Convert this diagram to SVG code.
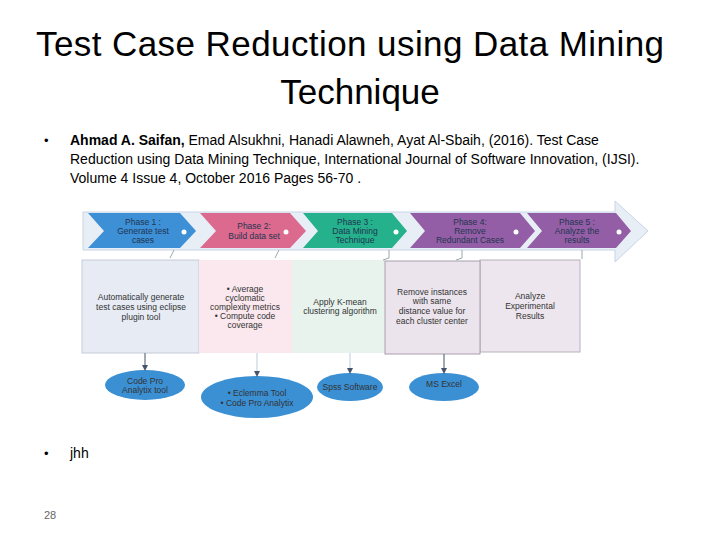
<svg xmlns="http://www.w3.org/2000/svg" width="720" height="540" viewBox="0 0 720 540">
<style>
.t{font-family:"Liberation Sans",Arial,sans-serif;}
.ph{font-family:"Liberation Sans",Arial,sans-serif;font-size:8.5px;fill:#1f3550;text-anchor:middle;}
.bx{font-family:"Liberation Sans",Arial,sans-serif;font-size:8.5px;fill:#333;text-anchor:middle;}
.el{fill:#3b8fd3;}
.dot{fill:#fff;}
</style>
<defs><marker id="ar" markerWidth="6" markerHeight="6" refX="3" refY="3" orient="auto"><path d="M0,0L6,3L0,6z" fill="#44546a"/></marker></defs>
<rect width="720" height="540" fill="#fff"/>
<text class="t" x="350" y="56" font-size="35" text-anchor="middle" fill="#000" textLength="628">Test Case Reduction using Data Mining</text>
<text class="t" x="360" y="104" font-size="35" text-anchor="middle" fill="#000">Technique</text>
<text class="t" x="44" y="145" font-size="13">•</text>
<text class="t" font-size="14" fill="#000"><tspan x="70" y="145"><tspan font-weight="bold">Ahmad A. Saifan,</tspan> Emad Alsukhni, Hanadi Alawneh, Ayat Al-Sbaih, (2016). Test Case</tspan><tspan x="70" y="164">Reduction using Data Mining Technique, International Journal of Software Innovation, (IJSI).</tspan><tspan x="70" y="183">Volume 4 Issue 4, October 2016  Pages 56-70 .</tspan></text>
<text class="t" x="44" y="458" font-size="13">•</text>
<text class="t" x="70" y="458" font-size="14">jhh</text>
<text class="t" x="44" y="519" font-size="11" fill="#666">28</text>
<g id="bigarrow"><path d="M83,212H615V201L648,231L615,262V250H83z" fill="#e8eef6" stroke="#c8d4e6"/></g>
<g id="phase1"><path d="M88,213H180L196,231L180,248H88L104,231z" fill="#3d8fd6"/><text class="ph"><tspan x="143" y="225">Phase 1 :</tspan><tspan x="143" y="234">Generate test</tspan><tspan x="143" y="243">cases</tspan></text><circle class="dot" cx="184" cy="232" r="2.5"/></g>
<g id="phase2"><path d="M200,213H290L306,231L290,248H200L216,231z" fill="#dc6a8e"/><text class="ph"><tspan x="254" y="229">Phase 2:</tspan><tspan x="254" y="239">Build data set</tspan></text><circle class="dot" cx="286" cy="232" r="2.5"/></g>
<g id="phase3"><path d="M303,213H392L407,231L392,248H303L318,231z" fill="#25b18c"/><text class="ph"><tspan x="355" y="225">Phase 3 :</tspan><tspan x="355" y="234">Data Mining</tspan><tspan x="355" y="243">Technique</tspan></text><circle class="dot" cx="396" cy="232" r="2.5"/></g>
<g id="phase4"><path d="M410,213H520L535,231L520,248H410L425,231z" fill="#935ea5"/><text class="ph"><tspan x="470" y="225">Phase 4:</tspan><tspan x="470" y="234">Remove</tspan><tspan x="470" y="243">Redundant Cases</tspan></text><circle class="dot" cx="516" cy="232" r="2.5"/></g>
<g id="phase5"><path d="M527,213H616L631,231L616,248H527L542,231z" fill="#935ea5"/><text class="ph"><tspan x="577" y="225">Phase 5 :</tspan><tspan x="577" y="234">Analyze the</tspan><tspan x="577" y="243">results</tspan></text><circle class="dot" cx="619" cy="232" r="2.5"/></g>
<g id="box1"><rect x="82" y="260" width="117" height="93" fill="#e6ebf4" stroke="#c5ccd8"/><text class="bx"><tspan x="141" y="300">Automatically generate</tspan><tspan x="141" y="310">test cases using eclipse</tspan><tspan x="141" y="320">plugin tool</tspan></text></g>
<g id="box2"><rect x="199" y="260" width="93" height="93" fill="#fae8ee"/><text class="bx"><tspan x="245" y="292">• Average</tspan><tspan x="245" y="301">cyclomatic</tspan><tspan x="245" y="310">complexity metrics</tspan><tspan x="245" y="319">• Compute code</tspan><tspan x="245" y="328">coverage</tspan></text></g>
<g id="box3"><rect x="292" y="260" width="93" height="93" fill="#e8f3ee"/><text class="bx"><tspan x="340" y="305">Apply K-mean</tspan><tspan x="340" y="314">clustering algorithm</tspan></text></g>
<g id="box5"><rect x="480" y="260" width="100" height="92" fill="#ede6ee" stroke="#b8b0bc"/><text class="bx"><tspan x="530" y="299">Analyze</tspan><tspan x="530" y="309">Experimental</tspan><tspan x="530" y="319">Results</tspan></text></g>
<g id="box4"><rect x="385" y="261" width="95" height="93" fill="#ebe4ed" stroke="#a89fad"/><text class="bx"><tspan x="432" y="295">Remove instances</tspan><tspan x="432" y="304">with same</tspan><tspan x="432" y="314">distance value for</tspan><tspan x="432" y="324">each cluster center</tspan></text></g>
<g id="e1"><ellipse class="el" cx="145" cy="385" rx="40" ry="15"/><text class="bx" fill="#1a2a40"><tspan x="145" y="384">Code Pro</tspan><tspan x="145" y="393">Analytix tool</tspan></text></g>
<g id="e2"><ellipse class="el" cx="257" cy="397" rx="56" ry="21"/><text class="bx" fill="#1a2a40"><tspan x="257" y="396">• Eclemma Tool</tspan><tspan x="257" y="406">• Code Pro Analytix</tspan></text></g>
<g id="e3"><ellipse class="el" cx="350" cy="387" rx="33" ry="14"/><text class="bx" fill="#1a2a40" x="350" y="390">Spss Software</text></g>
<g id="e4"><ellipse class="el" cx="444" cy="387" rx="35" ry="14"/><text class="bx" fill="#1a2a40" x="444" y="387">MS Excel</text></g>
<g id="connectors" stroke="#44546a" stroke-width="1" fill="none">
<line x1="145" y1="353" x2="145" y2="368" marker-end="url(#ar)"/>
<line x1="257" y1="353" x2="257" y2="374" stroke="#bcd" marker-end="url(#ar)"/>
<line x1="350" y1="353" x2="350" y2="371" stroke="#bcd" marker-end="url(#ar)"/>
<line x1="444" y1="354" x2="444" y2="371" marker-end="url(#ar)"/>
<path d="M174,250L170,258M279,250L275,258M389,250L389,258L383,260M462,250L462,258L456,260M582,250L582,259" stroke="#9aa"/>
</g>
</svg>
